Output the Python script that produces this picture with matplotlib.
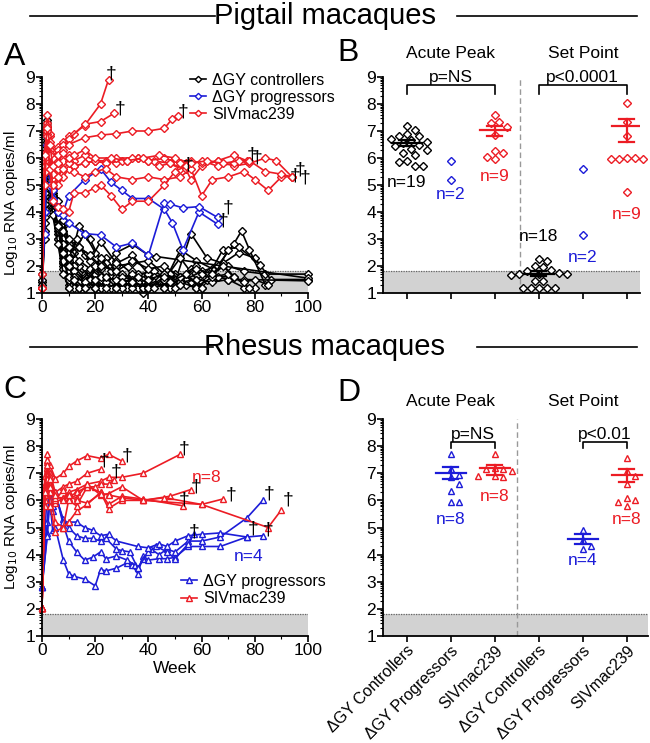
import numpy as np
import matplotlib.pyplot as plt
from matplotlib.lines import Line2D

plt.rcParams['font.family'] = ['Liberation Sans', 'DejaVu Sans']

RED = '#ec1c24'
BLUE = '#1c1cd8'
BLACK = 'black'

# ---------------- Panel A: pigtail macaques, viral load over time ----------------
pt_ctrl_weeks = [
    [0, 1, 2, 3, 4, 6, 8, 10, 14, 18, 22, 28, 34, 40, 46, 52, 58, 64, 70, 76, 84, 100],
    [0, 1, 2, 3, 4, 6, 8, 10, 12, 16, 20, 26, 32, 38, 44, 50, 56, 62, 68, 74, 80, 86, 100],
    [0, 1, 2, 3, 4, 6, 8, 10, 13, 16, 20, 24, 30, 36, 42, 48, 54, 60, 66, 72, 75, 78, 84],
    [0, 1, 2, 3, 4, 6, 8, 10, 14, 18, 22, 26, 30, 36, 42, 48, 54, 60, 68, 74, 82],
    [0, 1, 2, 3, 4, 6, 8, 10, 12, 16, 20, 24, 28, 34, 38, 44, 50, 56, 62, 70, 76, 80],
    [0, 1, 2, 3, 4, 6, 8, 10, 14, 18, 22, 28, 34, 40, 43, 100],
    [0, 1, 2, 3, 4, 6, 8, 10, 12, 16, 20, 24, 28, 32, 36, 40, 44],
    [0, 1, 2, 3, 4, 6, 8, 10, 12, 14, 18, 22, 26, 30, 34, 40, 46, 52, 58],
    [0, 1, 2, 3, 4, 6, 8, 10, 14, 18, 22, 26, 30, 36, 42, 48, 54, 60, 66, 72, 78],
    [0, 1, 2, 3, 4, 6, 8, 10, 12, 16, 20, 24, 28, 34, 40, 46, 52, 56, 60, 64],
    [0, 1, 2, 3, 4, 6, 8, 10, 14, 18, 22, 28, 34, 40, 46, 52, 58, 64, 70],
    [0, 1, 2, 3, 4, 6, 8, 10, 12, 16, 20, 24, 28, 34, 40],
    [0, 1, 2, 3, 4, 6, 8, 10, 14, 18, 22, 26, 30, 34, 38, 42, 46, 50, 54, 58, 62],
    [0, 1, 2, 3, 4, 6, 8, 10, 12, 16, 20, 24, 28, 32, 36, 40, 46, 52, 58, 64, 70, 76, 100],
    [0, 1, 2, 3, 4, 6, 8, 10, 14, 18, 22, 26, 30, 34, 38, 44, 50],
    [0, 1, 2, 3, 4, 6, 8, 10, 14, 18, 22, 28, 34, 40, 46, 52, 58, 64, 70, 76, 80, 85],
    [0, 1, 2, 3, 4, 6, 8, 10, 12, 16, 20, 24, 28, 34, 40, 46, 52],
    [0, 1, 2, 3, 4, 6, 8, 10, 14, 18, 22, 28, 34, 40, 46, 52, 58, 64, 68, 72],
    [0, 1, 2, 3, 4, 6, 8, 10, 12, 16, 20, 24, 30, 36, 42, 48, 54, 60],
]
pt_ctrl_vals = [
    [1.2, 5.0, 7.0, 5.8, 4.6, 3.9, 2.9, 2.0, 3.5, 3.0, 2.2, 1.7, 1.5, 1.6, 1.4, 2.6, 2.2, 1.9, 2.0, 1.8, 1.7, 1.7],
    [1.4, 4.2, 7.3, 6.0, 5.0, 4.2, 3.5, 1.7, 1.5, 1.2, 1.2, 1.5, 1.2, 1.6, 1.5, 1.4, 3.2, 2.3, 2.1, 2.5, 2.3, 1.5, 1.5],
    [1.2, 3.3, 6.8, 5.2, 4.3, 3.6, 2.6, 1.9, 3.0, 2.4, 1.8, 2.3, 1.5, 1.7, 1.8, 1.5, 1.5, 1.8, 2.0, 2.8, 3.3, 2.6, 1.3],
    [1.7, 4.0, 6.5, 5.0, 4.1, 3.0, 2.1, 1.5, 1.2, 1.4, 1.2, 1.2, 1.3, 1.2, 1.5, 1.2, 1.4, 1.2, 2.6, 2.7, 2.05],
    [1.2, 4.5, 6.2, 5.6, 4.8, 4.0, 3.1, 2.5, 2.0, 1.7, 1.8, 1.5, 2.2, 1.7, 1.0, 1.5, 1.7, 1.4, 1.7, 1.5, 1.2, 1.2],
    [1.2, 3.8, 7.1, 5.5, 4.3, 3.3, 2.1, 1.6, 2.0, 1.6, 1.9, 2.5, 2.8, 2.4, 2.35, 1.55],
    [1.2, 4.9, 7.2, 6.0, 5.1, 4.2, 3.6, 2.8, 2.0, 1.5, 1.2, 1.5, 1.2, 1.2, 1.5, 1.7, 1.4],
    [1.2, 5.2, 6.9, 5.9, 4.9, 4.0, 2.4, 1.2, 1.5, 1.2, 1.7, 1.2, 1.5, 1.2, 1.8, 1.2, 1.5, 2.3, 1.5],
    [1.2, 4.6, 6.6, 5.7, 4.6, 3.5, 2.3, 1.8, 1.5, 1.7, 1.4, 1.6, 1.5, 1.5, 1.6, 1.7, 1.5, 1.4, 1.6, 1.6, 1.2],
    [1.5, 5.1, 7.4, 6.1, 5.0, 3.9, 3.0, 2.2, 2.5, 3.2, 2.5, 2.1, 2.0, 2.1, 2.2, 1.7, 1.5, 1.9, 1.7, 1.5],
    [1.2, 4.4, 6.4, 5.2, 4.4, 3.7, 2.6, 2.0, 2.7, 2.2, 2.9, 2.1, 2.4, 1.7, 1.2, 1.6, 2.0, 1.5, 2.6],
    [1.3, 4.8, 7.0, 5.4, 4.2, 3.2, 2.0, 1.3, 1.2, 1.6, 1.2, 1.4, 1.5, 1.7, 1.4],
    [1.2, 3.6, 6.3, 5.0, 4.0, 3.0, 1.9, 1.5, 1.4, 1.8, 1.5, 1.4, 1.7, 1.2, 1.5, 1.4, 1.2, 1.5, 1.3, 1.2, 1.5],
    [1.2, 5.4, 7.0, 5.9, 4.7, 3.6, 2.8, 2.3, 1.8, 1.5, 1.7, 1.4, 1.6, 1.5, 1.4, 1.5, 1.7, 1.4, 1.5, 1.4, 1.5, 1.5, 1.45],
    [1.2, 4.1, 6.7, 5.3, 4.5, 3.4, 2.2, 1.6, 1.2, 1.5, 2.3, 1.8, 1.6, 1.5, 1.2, 1.5, 1.2],
    [1.2, 4.3, 6.9, 5.5, 4.6, 3.8, 3.3, 2.7, 2.2, 1.9, 1.6, 1.5, 1.4, 1.2, 1.5, 1.4, 1.2, 1.6, 1.7, 1.4, 1.5, 1.3],
    [1.2, 3.0, 6.1, 4.9, 3.9, 2.8, 1.7, 1.2, 1.6, 1.4, 2.0, 1.6, 1.2, 1.4, 1.2, 1.6, 1.3],
    [1.2, 5.6, 7.1, 6.3, 5.3, 4.4, 3.7, 3.0, 2.7, 2.4, 2.0, 1.8, 2.2, 1.9, 2.0, 1.6, 1.9, 1.7, 2.0, 1.6],
    [1.2, 4.7, 6.6, 5.5, 4.5, 3.5, 2.5, 2.0, 1.5, 1.2, 1.5, 1.2, 1.4, 1.6, 1.2, 1.4, 1.7, 1.2],
]
pt_prog_weeks = [
    [0, 1, 2, 3, 4, 6, 8, 10, 16, 22, 26, 30, 34, 40, 46, 49, 53, 59, 66],
    [0, 1, 2, 3, 4, 6, 8, 10, 16, 22, 28, 34, 40, 46, 48, 53, 59, 66],
]
pt_prog_vals = [
    [1.2, 4.0, 6.8, 5.5, 4.8, 4.2, 4.0, 4.6, 5.2, 5.6, 5.1, 4.8, 4.5, 4.5, 4.1, 3.6, 2.6, 4.0, 3.55],
    [1.2, 3.2, 6.5, 5.0, 4.5, 4.0, 3.9, 3.6, 3.2, 3.15, 2.7, 2.85, 2.4, 4.35, 4.3, 4.15, 4.2, 3.8],
]
pt_mac_weeks = [
    [0, 1, 2, 3, 4, 6, 8, 10, 12, 16, 22, 25],
    [0, 1, 2, 3, 4, 6, 8, 10, 16, 22, 27],
    [0, 1, 2, 3, 4, 6, 8, 10, 16, 22, 28, 34, 40, 46, 49, 51],
    [0, 1, 2, 3, 4, 6, 8, 10, 12, 16, 20, 24, 28, 32, 36, 40, 44, 48, 52, 54],
    [0, 1, 2, 3, 4, 6, 8, 10, 12, 16, 20, 24, 30, 36, 42, 48, 54, 56, 60, 66, 72, 77],
    [0, 1, 2, 3, 4, 6, 8, 10, 12, 16, 20, 24, 28, 34, 40, 46, 52, 56, 60, 66, 72, 78, 84, 88, 94],
    [0, 1, 2, 3, 4, 6, 8, 10, 12, 16, 20, 24, 28, 34, 40, 46, 52, 56, 60, 64, 70, 76, 80, 85, 90, 94],
    [0, 1, 2, 3, 4, 6, 8, 10, 12, 16, 20, 22, 26, 30, 34, 40, 46, 50, 54, 60, 66, 72, 78, 84, 90, 94],
    [0, 1, 2, 3, 4, 6, 8, 10, 12, 16, 20, 26, 32, 38, 44, 50, 56, 62, 68, 74, 78],
]
pt_mac_vals = [
    [1.2, 6.2, 7.3, 6.8, 6.2, 6.4, 6.6, 6.8, 6.9, 7.2, 8.0, 8.9],
    [1.7, 5.8, 7.6, 6.9, 6.0, 6.3, 6.5, 6.7, 7.25, 7.35, 7.65],
    [1.2, 5.5, 7.2, 6.6, 6.0, 6.1, 6.3, 6.5, 6.75, 6.85, 6.9, 7.0, 7.0, 7.1, 7.45, 7.55],
    [1.2, 5.9, 7.0, 6.4, 5.5, 5.7, 6.0, 6.1, 5.9, 6.1, 5.9, 5.9, 5.8, 5.9, 6.0, 5.9, 5.7, 5.8, 5.6, 5.8],
    [1.2, 5.5, 7.1, 6.3, 5.2, 5.0, 5.3, 5.6, 5.7, 5.8, 5.9, 5.8, 5.9, 6.0, 5.9, 5.8, 5.6, 5.2, 5.7, 5.9, 6.1, 5.9],
    [1.2, 6.0, 6.9, 6.2, 5.4, 5.6, 5.9, 5.9, 5.7, 5.8, 5.9, 5.8, 6.0, 6.0, 5.9, 6.0, 5.8, 5.9, 5.8, 5.9, 5.7, 5.8, 6.0, 5.9, 5.3],
    [1.2, 5.7, 7.0, 6.1, 5.0, 5.3, 5.6, 5.8, 5.5, 5.3, 5.5, 5.6, 5.3, 5.2, 5.3, 5.2, 5.3, 5.6, 4.6, 5.2, 5.3, 5.5, 5.2, 4.8, 5.3, 5.3],
    [1.2, 5.0, 6.8, 5.6, 4.4, 4.2, 4.1, 4.0, 4.7, 4.7, 4.9, 5.0, 4.6, 4.1, 4.4, 4.4, 5.0, 5.5, 5.7, 5.9, 5.7, 5.8, 5.9, 5.5, 5.4, 5.3],
    [1.2, 6.1, 7.1, 6.5, 5.7, 5.8, 6.2, 6.0, 6.1, 6.3, 6.0, 6.0, 5.9, 6.0, 6.1, 6.0, 5.8, 5.9, 5.8, 5.9, 5.9],
]
pt_death_weeks = [26, 29.5, 53, 55, 79, 81, 95, 97, 99, 68, 70]
pt_death_vals = [9.1, 7.8, 7.7, 5.75, 6.1, 6.0, 5.35, 5.55, 5.25, 3.65, 4.15]

# ---------------- Panel C: rhesus macaques, viral load over time ----------------
rh_prog_weeks = [
    [0, 2, 3, 4, 5, 8, 10, 12, 16, 20, 22, 24, 28, 32, 34, 36, 38, 40, 44, 47, 50, 55, 60, 67, 77, 83],
    [0, 2, 3, 4, 5, 8, 10, 13, 16, 19, 22, 24, 28, 32, 35, 36, 38, 41, 44, 47, 50, 55, 60, 67, 77, 83],
    [0, 2, 3, 4, 5, 8, 10, 13, 16, 19, 22, 24, 28, 30, 33, 36, 40, 43, 47, 50, 55, 57],
    [0, 2, 3, 4, 5, 8, 10, 13, 16, 19, 22, 25, 28, 36, 40, 44, 47, 50, 55, 60, 67, 77],
]
rh_prog_vals = [
    [2.8, 4.8, 6.0, 4.9, 5.0, 3.8, 3.3, 3.2, 3.1, 2.85, 3.45, 3.4, 3.5, 3.7, 3.6, 3.3, 3.95, 3.8, 3.85, 3.85, 3.9, 4.3, 4.3, 4.3, 4.65, 4.7],
    [2.8, 6.4, 7.0, 6.2, 6.3, 5.1, 4.5, 4.1, 3.8, 3.9, 4.1, 3.85, 3.95, 3.8, 3.6, 3.5, 3.85, 4.2, 4.0, 4.2, 4.1, 4.5, 4.5, 4.65, 5.35, 6.0],
    [2.8, 5.2, 6.5, 5.6, 6.2, 5.3, 5.0, 4.7, 4.6, 4.6, 4.5, 4.6, 4.2, 4.15, 4.1, 3.5, 4.1, 4.3, 4.1, 3.85, 4.4, 4.75],
    [2.8, 4.7, 6.8, 5.8, 6.3, 5.2, 5.2, 5.2, 5.0, 4.9, 4.7, 4.75, 4.5, 4.3, 4.25, 4.4, 4.3, 4.5, 4.7, 4.75, 4.8, 4.65],
]
rh_mac_weeks = [
    [0, 1, 2, 3, 5, 8, 10, 13, 17, 22, 25, 30],
    [0, 1, 2, 3, 5, 8, 10, 13, 17, 22],
    [0, 1, 2, 3, 5, 8, 10, 13, 17, 22, 25, 30, 38, 52],
    [0, 1, 2, 3, 5, 8, 10, 13, 17, 20, 22, 25, 27],
    [0, 1, 2, 3, 5, 8, 10, 13, 17, 22, 25, 30, 38, 48, 56],
    [0, 1, 2, 3, 5, 8, 10, 13, 17, 22, 25, 30, 38, 53],
    [0, 1, 2, 3, 5, 8, 10, 13, 17, 22, 25, 30, 38, 46, 60, 68],
    [0, 1, 2, 3, 5, 8, 10, 13, 17, 22, 25, 30, 38, 60, 85, 90],
]
rh_mac_vals = [
    [2.05, 6.9, 7.7, 7.3, 6.8, 7.0, 7.25, 7.45, 7.65, 7.55, 7.7, 7.45],
    [2.05, 6.6, 7.4, 7.0, 6.3, 6.5, 6.6, 6.7, 7.0, 7.15],
    [2.05, 6.2, 7.2, 6.6, 5.9, 6.1, 6.3, 6.4, 6.6, 6.7, 6.85, 6.85, 7.0, 7.7],
    [2.05, 6.5, 7.5, 6.9, 6.0, 6.4, 6.1, 6.3, 6.5, 6.5, 6.6, 6.6, 6.75],
    [2.05, 6.0, 7.0, 6.3, 5.2, 5.0, 5.2, 5.6, 5.85, 6.3, 5.7, 6.0, 6.0, 6.15, 6.4],
    [2.05, 5.8, 6.8, 5.8, 4.85, 5.0, 6.0, 5.8, 6.5, 6.3, 5.85, 6.15, 6.05, 5.8],
    [2.05, 6.4, 7.2, 6.5, 6.1, 6.1, 6.2, 6.1, 6.6, 6.2, 6.25, 6.5, 6.0, 6.1, 5.85, 6.05],
    [2.05, 6.3, 7.3, 6.8, 6.2, 6.0, 6.2, 6.0, 5.9, 6.25, 6.2, 6.1, 6.0, 5.85, 5.0, 5.65],
]
rh_death_weeks = [32, 53.6, 23.2, 28, 58, 71.2, 53.6, 85.3, 92.5, 57, 79.3, 85]
rh_death_vals = [7.65, 7.9, 7.45, 7.05, 6.5, 6.2, 6.0, 6.25, 6.0, 4.85, 4.95, 4.9]

# ---------------- Panels B / D: acute peak and set point ----------------
categories = ['ΔGY Controllers', 'ΔGY Progressors', 'SIVmac239',
              'ΔGY Controllers', 'ΔGY Progressors', 'SIVmac239']
group_colors = [BLACK, BLUE, RED, BLACK, BLUE, RED]

pt_points = [
    [7.2, 7.05, 6.9, 6.8, 6.8, 6.7, 6.65, 6.6, 6.55, 6.5, 6.45, 6.35, 6.3, 6.2, 6.1, 5.9, 5.85, 5.7, 5.7],
    [5.9, 5.2],
    [7.6, 7.35, 7.3, 7.15, 6.85, 6.25, 6.2, 6.05, 5.95],
    [2.25, 2.2, 2.0, 1.95, 1.85, 1.8, 1.75, 1.72, 1.7, 1.7, 1.65, 1.45, 1.45, 1.2, 1.2, 1.2, 1.2, 1.2],
    [5.6, 3.15],
    [8.05, 7.35, 6.8, 6.0, 6.0, 5.95, 5.95, 5.95, 4.75],
]
pt_mean = [6.57, None, 7.03, 1.72, None, 7.18]
pt_err_lo = [6.45, None, 6.82, 1.64, None, 6.58]
pt_err_hi = [6.68, None, 7.18, 1.80, None, 7.44]
pt_n_text = ['n=19', 'n=2', 'n=9', 'n=18', 'n=2', 'n=9']
pt_n_y = [5.1, 4.65, 5.3, 3.1, 2.3, 3.9]

rh_points = [
    [],
    [7.7, 7.15, 6.95, 6.85, 6.6, 6.35, 5.95, 5.95],
    [7.7, 7.2, 7.15, 7.15, 7.1, 6.9, 6.9, 6.85],
    [],
    [4.9, 4.55, 4.3, 4.2],
    [7.55, 7.1, 6.9, 6.6, 6.1, 6.0, 5.95, 5.8],
]
rh_mean = [None, 7.0, 7.18, None, 4.58, 6.94]
rh_err_lo = [None, 6.78, 6.94, None, 4.40, 6.66]
rh_err_hi = [None, 7.23, 7.31, None, 4.77, 7.15]
rh_n_text = ['', 'n=8', 'n=8', '', 'n=4', 'n=8']
rh_n_y = [0, 5.3, 6.15, 0, 3.8, 5.3]

W, H = 650, 743
fig = plt.figure(figsize=(W / 100, H / 100), dpi=100)


def px_axes(left, top, right, bottom):
    return fig.add_axes([left / W, 1 - bottom / H, (right - left) / W, (bottom - top) / H])


def style_y(ax):
    ax.set_ylim(1, 9)
    ax.set_yticks(range(1, 10))
    ax.set_yticks([k + np.log10(m) for k in range(1, 9) for m in range(2, 10)], minor=True)
    for s in ['top', 'right']:
        ax.spines[s].set_visible(False)
    for s in ['left', 'bottom']:
        ax.spines[s].set_linewidth(1.3)
    ax.tick_params(axis='both', which='major', labelsize=12.5, length=4, width=1.2, pad=1)
    ax.tick_params(axis='both', which='minor', length=2, width=0.8)
    ax.axhspan(1, 1.8, color='#d2d2d2', zorder=0, lw=0)
    ax.axhline(1.8, color='#666666', ls=(0, (1, 1)), lw=0.9, zorder=0.5)


def time_panel(ax, groups, marker, ms):
    for weeks, vals, color, label in groups:
        for i, (w, v) in enumerate(zip(weeks, vals)):
            ax.plot(w, v, color=color, lw=1.2, marker=marker, ms=ms, mfc='white',
                    mec=color, mew=1.0, clip_on=False, label=label if i == 0 else None)
    ax.set_xlim(0, 100)
    ax.set_xticks(range(0, 101, 20))
    ax.set_xticks(range(10, 100, 20), minor=True)
    style_y(ax)


def swarm(vals, d_px=7.0, xs=44.0, ys=27.0):
    vals = np.asarray(vals, dtype=float)
    offs = np.zeros(len(vals))
    placed = []
    cands = [0.0]
    for k in range(1, 30):
        cands += [k * d_px / 2, -k * d_px / 2]
    for i in np.argsort(-vals, kind='stable'):
        y = vals[i] * ys
        for c in cands:
            if all((c - px) ** 2 + (y - py) ** 2 >= (0.95 * d_px) ** 2 for px, py in placed):
                break
        placed.append((c, y))
        offs[i] = c / xs
    return offs


def dot_panel(ax, points, means, lo, hi, n_text, n_y, marker, ms, d_px, divider):
    for i, pts in enumerate(points):
        col = group_colors[i]
        if pts:
            xs = i + swarm(pts, d_px=d_px)
            ax.plot(xs, pts, ls='none', marker=marker, ms=ms, mfc='white', mec=col,
                    mew=1.0, clip_on=False, zorder=3)
        if means[i] is not None:
            ax.plot([i - 0.34, i + 0.34], [means[i]] * 2, color=col, lw=1.6, zorder=4)
            ax.plot([i, i], [lo[i], hi[i]], color=col, lw=1.6, zorder=4)
            for y in (lo[i], hi[i]):
                ax.plot([i - 0.17, i + 0.17], [y, y], color=col, lw=1.6, zorder=4)
        if n_text[i]:
            ax.text(i, n_y[i], n_text[i], color=col, ha='center', va='center', fontsize=12.5)
    ax.axvline(divider, color='#999999', ls=(0, (4, 2.5)), lw=1.0, zorder=1)
    ax.set_xticks(range(6))
    style_y(ax)


def bracket(ax, x0, x1, y, drop, text):
    ax.plot([x0, x0, x1, x1], [y - drop, y, y, y - drop], color='black', lw=1.2, clip_on=False)
    ax.text((x0 + x1) / 2, y + 0.03, text, ha='center', va='bottom', fontsize=12.5)


# ---- Panel A
axA = px_axes(42, 77, 308, 293)
time_panel(axA, [(pt_ctrl_weeks, pt_ctrl_vals, BLACK, 'ΔGY controllers'),
                 (pt_prog_weeks, pt_prog_vals, BLUE, 'ΔGY progressors'),
                 (pt_mac_weeks, pt_mac_vals, RED, 'SIVmac239')], 'D', 4.0)
for w, v in zip(pt_death_weeks, pt_death_vals):
    axA.text(w, v, '†', ha='center', va='center', fontsize=14, clip_on=False)
axA.legend(loc='upper left', bbox_to_anchor=(190 / W, 1 - 73 / H), bbox_transform=fig.transFigure,
           frameon=False, fontsize=11.5, handlelength=1.0, handletextpad=0.4,
           labelspacing=0.12, borderaxespad=0, borderpad=0, markerscale=0.8)

# ---- Panel C
axC = px_axes(42, 419, 308, 636)
time_panel(axC, [(rh_prog_weeks, rh_prog_vals, BLUE, 'ΔGY progressors'),
                 (rh_mac_weeks, rh_mac_vals, RED, 'SIVmac239')], '^', 5.0)
for w, v in zip(rh_death_weeks, rh_death_vals):
    axC.text(w, v, '†', ha='center', va='center', fontsize=14, clip_on=False)
axC.text(62, 6.86, 'n=8', color=RED, ha='center', va='center', fontsize=12.5)
axC.text(77.5, 3.93, 'n=4', color=BLUE, ha='center', va='center', fontsize=12.5)
axC.legend(loc='upper left', bbox_to_anchor=(181 / W, 1 - 574 / H), bbox_transform=fig.transFigure,
           frameon=False, fontsize=11.5, handlelength=1.0, handletextpad=0.4,
           labelspacing=0.15, borderaxespad=0, borderpad=0, markerscale=0.8)
axC.set_xlabel('Week', fontsize=12.5, labelpad=2)

for y in (203, 517):
    fig.text(11 / W, 1 - y / H, 'Log$_{10}$ RNA copies/ml', rotation=90,
             ha='center', va='center', fontsize=11)

# ---- Panel B
axB = px_axes(383, 77, 640, 293)
dot_panel(axB, pt_points, pt_mean, pt_err_lo, pt_err_hi, pt_n_text, pt_n_y, 'D', 4.2, 8.0, 2.57)
axB.set_xlim(-0.54, 5.3)
axB.set_xticklabels([])
bracket(axB, 0, 2, 8.69, 0.33, 'p=NS')
bracket(axB, 3, 5, 8.69, 0.33, 'p<0.0001')
axB.text(1, 9.88, 'Acute Peak', ha='center', va='center', fontsize=12.5)
axB.text(4, 9.88, 'Set Point', ha='center', va='center', fontsize=12.5)

# ---- Panel D
axD = px_axes(383, 419, 648, 636)
dot_panel(axD, rh_points, rh_mean, rh_err_lo, rh_err_hi, rh_n_text, rh_n_y, '^', 5.0, 8.5, 2.5)
axD.set_xlim(-0.54, 5.48)
axD.set_xticklabels(categories, rotation=45, ha='right', rotation_mode='anchor', fontsize=11.5)
bracket(axD, 1, 2, 8.14, 0.2, 'p=NS')
bracket(axD, 4, 5, 8.14, 0.2, 'p<0.01')
axD.text(1, 9.63, 'Acute Peak', ha='center', va='center', fontsize=12.5)
axD.text(4, 9.63, 'Set Point', ha='center', va='center', fontsize=12.5)

# ---- headers and panel letters
for text, y, x0, x1 in [('Pigtail macaques', 16, 215, 457), ('Rhesus macaques', 347, 213, 477)]:
    fig.text(0.5, 1 - y / H, text, ha='center', va='center', fontsize=21)
    fig.add_artist(Line2D([30 / W, x0 / W], [1 - y / H] * 2, color='black', lw=1.2))
    fig.add_artist(Line2D([x1 / W, 637 / W], [1 - y / H] * 2, color='black', lw=1.2))

for letter, x, y in [('A', 15, 57), ('B', 348, 53), ('C', 15, 390), ('D', 349, 393)]:
    fig.text(x / W, 1 - y / H, letter, ha='center', va='center', fontsize=23)

fig.savefig('out.png', dpi=100)
